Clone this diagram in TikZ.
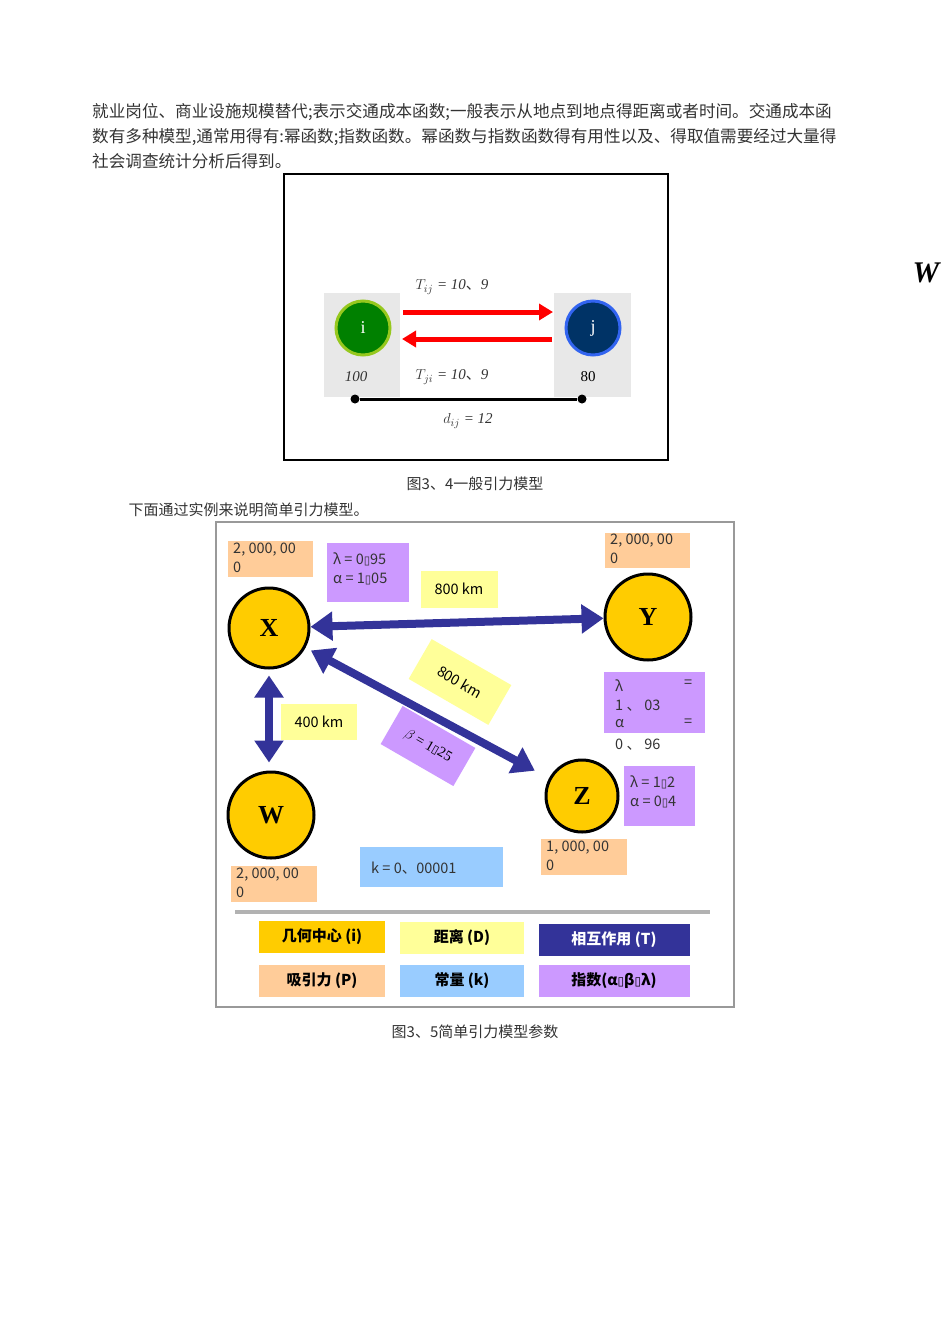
\documentclass[tikz,border=0pt]{standalone}
\usepackage{fontspec}
\setmainfont{Liberation Serif}
\newfontfamily\cjk{Noto Sans CJK SC}
\newfontfamily\dvs{DejaVu Sans}
\usetikzlibrary{arrows.meta}
\newcommand{\bx}{{\dvs\scalebox{0.8}{▯}}}
\newcommand{\dn}{{\cjk 、}}
\definecolor{gold}{HTML}{FFCC00}
\definecolor{peach}{HTML}{FFCC99}
\definecolor{lilac}{HTML}{CC99FF}
\definecolor{lemon}{HTML}{FFFF99}
\definecolor{sky}{HTML}{99CCFF}
\definecolor{navy2}{HTML}{333399}
\tikzset{
 body/.style={font=\cjk\fontsize{15}{18}\selectfont, text=black!80},
 para/.style={font=\cjk\fontsize{16.6}{18}\selectfont, text=black!80, inner sep=0pt},
 city/.style={circle, draw=black, line width=3pt, fill=gold, font=\bfseries\fontsize{26}{26}\selectfont},
 tag/.style={anchor=north west, inner sep=0pt, font=\cjk\fontsize{14.5}{19}\selectfont, align=left, text=black!80},
 link/.style={navy2, line width=8pt, {Triangle[length=22pt,width=28pt]}-{Triangle[length=22pt,width=28pt]}},
 leg/.style={minimum height=32pt, font=\cjk\bfseries\fontsize{15}{15}\selectfont},
 flow/.style={red, line width=5pt, -{Triangle[length=14pt,width=16pt]}},
 ital/.style={font=\itshape\fontsize{15}{15}\selectfont, text=black!80}
}
\begin{document}
\begin{tikzpicture}[x=1pt,y=-1pt]
\useasboundingbox (0,0) rectangle (950,1344);
% paragraph
\node[para, anchor=west] (p1) at (92,112) {就业岗位、商业设施规模替代;表示交通成本函数;一般表示从地点到地点得距离或者时间。交通成本函};
\node[para, anchor=west] (p2) at (92,137) {数有多种模型,通常用得有:幂函数;指数函数。幂函数与指数函数得有用性以及、得取值需要经过大量得};
\node[para, anchor=west] (p3) at (92,161) {社会调查统计分析后得到。};
\node[font=\bfseries\itshape\fontsize{30}{30}\selectfont] (W0) at (926,273) {W};
% figure 1
\draw[line width=2pt] (284,174) rectangle (668,460);
\fill[black!9] (324,293) rectangle (400,397);
\fill[black!9] (554,293) rectangle (631,397);
\node[circle, minimum size=54pt, fill={rgb,255:red,0;green,128;blue,0}, draw={rgb,255:red,150;green,200;blue,30}, line width=3pt, text=white, font=\fontsize{18}{18}\selectfont] (i) at (363,328) {i};
\node[circle, minimum size=54pt, fill={rgb,255:red,0;green,51;blue,102}, draw={rgb,255:red,50;green,100;blue,240}, line width=3pt, text=white, font=\fontsize{18}{18}\selectfont] (j) at (593,328) {j};
\coordinate (a1) at (403,312); \coordinate (b1) at (553,312);
\coordinate (a2) at (552,339); \coordinate (b2) at (402,339);
\draw[flow] (a1) -- (b1);
\draw[flow] (a2) -- (b2);
\node[ital] (tij) at (452,287) {$T_{ij}$ = 10\dn 9};
\node[ital] (tji) at (452,377) {$T_{ji}$ = 10\dn 9};
\node[ital] (m1) at (356,377) {100};
\node[font=\fontsize{15}{15}\selectfont] (m2) at (588,377) {80};
\node[circle, fill=black, inner sep=0pt, minimum size=9pt] (d1) at (355,399) {};
\node[circle, fill=black, inner sep=0pt, minimum size=9pt] (d2) at (582,399) {};
\draw[line width=3pt] (d1) -- (d2);
\node[ital] (dij) at (468,421) {$d_{ij}$ = 12};
\node[body] (c1) at (475,484) {图3、4一般引力模型};
\node[body, anchor=west] (p4) at (125,510) {下面通过实例来说明简单引力模型。};
% figure 2
\draw[black!40, line width=2pt] (216,522) rectangle (734,1007);
\fill[peach] (228,541) rectangle (313,577); \node[tag] (px) at (233,543) {2, 000, 00\\0};
\fill[peach] (605,533) rectangle (690,568); \node[tag] (py) at (610,534) {2, 000, 00\\0};
\fill[peach] (231,866) rectangle (317,902); \node[tag] (pw) at (236,868) {2, 000, 00\\0};
\fill[peach] (541,839) rectangle (627,875); \node[tag] (pz) at (546,841) {1, 000, 00\\0};
\fill[lilac] (327,543) rectangle (409,602); \node[tag] (lx) at (333,553) {λ = 0\bx95\\α = 1\bx05};
\fill[lilac] (604,672) rectangle (705,733);
\node[tag] (ly1) at (615,680) {λ}; \node[tag] (ly2) at (684,680) {=};
\node[tag] (ly3) at (615,700) {1 、 03};
\node[tag] (ly4) at (615,719) {α}; \node[tag] (ly5) at (684,719) {=};
\node[tag] (ly6) at (615,739) {0 、 96};
\fill[lilac] (624,766) rectangle (695,826); \node[tag] (lz) at (630,776) {λ = 1\bx2\\α = 0\bx4};
\node[city, minimum size=80pt] (X) at (269,628) {X};
\node[city, minimum size=86pt] (Y) at (648,617) {Y};
\node[city, minimum size=86pt] (W) at (271,815) {W};
\node[city, minimum size=72pt] (Z) at (582,796) {Z};
\node[fill=lemon, minimum width=77pt, minimum height=37pt, font=\cjk\fontsize{14.5}{14.5}\selectfont] (d800a) at (459,589) {800 km};
\node[fill=lemon, minimum width=76pt, minimum height=36pt, font=\cjk\fontsize{14.5}{14.5}\selectfont] (d400) at (319,722) {400 km};
\node[fill=lemon, minimum width=92pt, minimum height=46pt, rotate=-30, font=\cjk\fontsize{14.5}{14.5}\selectfont] (d800b) at (460,682) {800 km};
\draw[link] (X) -- (Y);
\draw[link, shorten <=6pt, shorten >=16pt] (X) -- (Z);
\draw[link, shorten <=6pt, shorten >=8pt] (X.south) -- (X.south |- W.north);
\node[fill=lilac, minimum width=84pt, minimum height=44pt, rotate=-30, font=\fontsize{14.5}{14.5}\selectfont] (beta) at (428,746) {$\beta$ = 1\bx25};
\fill[sky] (360,847) rectangle (503,887); \node[tag, anchor=west] (k) at (371,868) {k = 0、00001};
\draw[black!30, line width=4pt] (235,912) -- (710,912);
\node[leg, fill=gold, minimum width=126pt] (L1) at (322,937) {几何中心 (i)};
\node[leg, fill=lemon, minimum width=124pt] (L2) at (462,938) {距离 (D)};
\node[leg, fill=navy2, text=white, minimum width=151pt] (L3) at (614,940) {相互作用 (T)};
\node[leg, fill=peach, minimum width=126pt] (L4) at (322,981) {吸引力 (P)};
\node[leg, fill=sky, minimum width=124pt] (L5) at (462,981) {常量 (k)};
\node[leg, fill=lilac, minimum width=151pt] (L6) at (614,981) {指数(α\bx β\bx λ)};
\node[body] (c2) at (475,1032) {图3、5简单引力模型参数};
\end{tikzpicture}
\end{document}
